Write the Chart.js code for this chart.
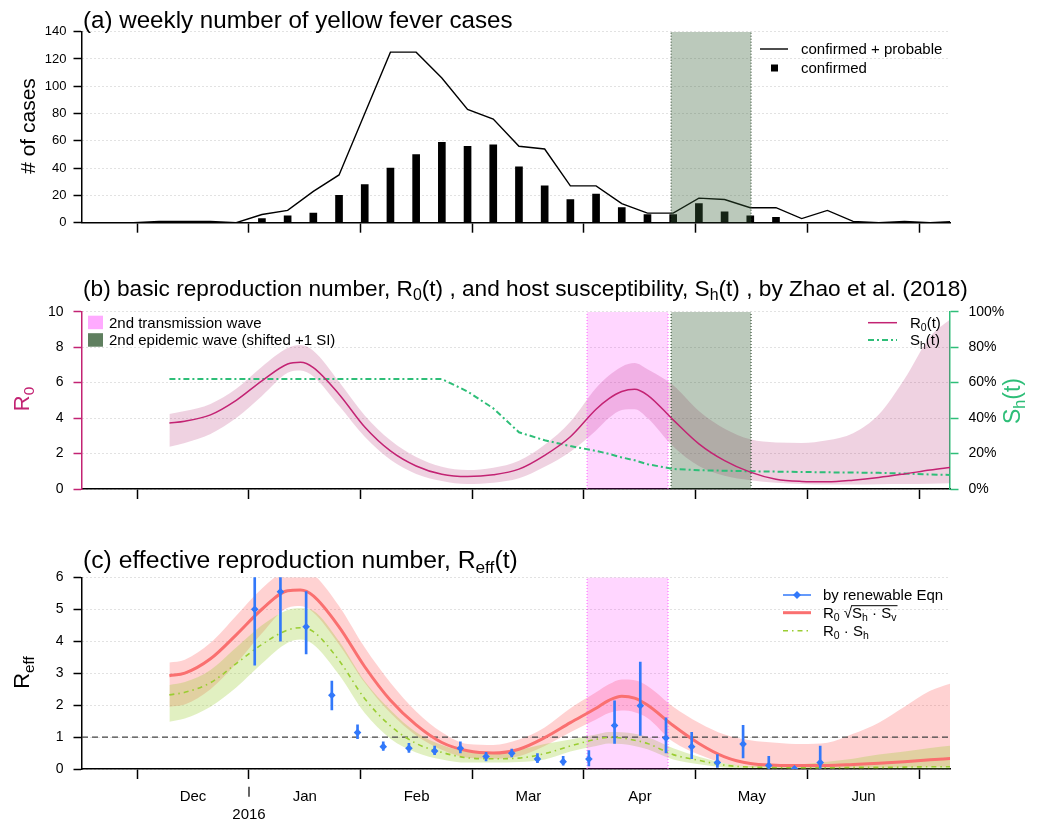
<!DOCTYPE html>
<html>
<head>
<meta charset="utf-8">
<title>Yellow fever cases and reproduction numbers</title>
<script src="https://cdn.jsdelivr.net/npm/chart.js@4.4.1/dist/chart.umd.min.js"></script>
<style>
  html, body { margin: 0; padding: 0; background: #fff; }
  #wrap { position: relative; width: 1047px; height: 822px; }
  .panel { position: absolute; left: 0; width: 1047px; }
</style>
</head>
<body>
<div id="wrap">
  <div class="panel" style="top:0;height:260px"><canvas id="chartA"></canvas></div>
  <div class="panel" style="top:260px;height:270px"><canvas id="chartB"></canvas></div>
  <div class="panel" style="top:530px;height:292px"><canvas id="chartC"></canvas></div>
</div>
<script>
// x axis is in weeks, week 0 = left edge of the plots
const monthTicks = [2.14, 6.49, 10.84, 15.19, 19.53, 23.88, 28.23, 32.58];
const monthLabels = ['Dec', 'Jan', 'Feb', 'Mar', 'Apr', 'May', 'Jun', ''];
const X_MAX = 33.77;

// (a) weekly cases
const caseWeeks = [0, 1, 2, 3, 4, 5, 6, 7, 8, 9, 10, 11, 12, 13, 14, 15, 16, 17, 18, 19, 20, 21, 22, 23, 24, 25, 26, 27, 28, 29, 30, 31, 32, 33, 34];
const casesTotal = [0, 0, 0, 1, 1, 1, 0, 6, 9, 23, 35, 80, 125, 125, 106, 83, 76, 56, 54, 27, 27, 14, 7, 7, 18, 17, 11, 11, 3, 9, 1, 0, 1, 0, 1];
const confirmedWeeks = [7, 8, 9, 10, 11, 12, 13, 14, 15, 16, 17, 18, 19, 20, 21, 22, 23, 24, 25, 26, 27];
const casesConfirmed = [3, 5, 7, 20, 28, 40, 50, 59, 56, 57, 41, 27, 17, 21, 11, 6, 6, 14, 8, 5, 4];

// shaded periods (weeks)
const transWave = [19.65, 22.8];
const epiWave = [22.92, 26.03];

// (b) R0(t) with band, Sh(t) in %
const curveWeeks = [3.4, 4, 5, 6, 7, 8, 8.5, 9, 10, 11, 12, 13, 14, 15, 16, 17, 18, 19, 20, 20.5, 21, 21.5, 22, 23, 24, 25, 26, 27, 28, 29, 30, 31, 32, 33, 33.8];
const r0Mid = [3.72, 3.82, 4.18, 5.0, 6.1, 7.05, 7.15, 6.85, 5.35, 3.5, 2.15, 1.3, 0.83, 0.7, 0.8, 1.12, 1.9, 2.95, 4.5, 5.1, 5.5, 5.63, 5.3, 3.9, 2.55, 1.6, 0.95, 0.55, 0.43, 0.41, 0.5, 0.65, 0.85, 1.07, 1.22];
const r0Hi = [4.23, 4.4, 4.8, 5.65, 6.9, 7.95, 8.12, 7.8, 6.05, 4.15, 2.75, 1.8, 1.25, 1.07, 1.2, 1.6, 2.5, 3.8, 5.7, 6.4, 6.9, 7.1, 6.75, 5.85, 4.4, 3.4, 2.8, 2.62, 2.6, 2.75, 3.15, 4.2, 6.2, 8.6, 9.6];
const r0Lo = [2.39, 2.6, 3.1, 4.0, 5.25, 6.55, 6.68, 6.35, 4.7, 2.95, 1.65, 0.85, 0.45, 0.28, 0.35, 0.6, 1.25, 2.1, 3.3, 4.0, 4.45, 4.5, 4.0, 2.4, 1.3, 0.75, 0.5, 0.35, 0.28, 0.25, 0.25, 0.27, 0.28, 0.3, 0.32];
const shPct = [62, 62, 62, 62, 62, 62, 62, 62, 62, 62, 62, 62, 62, 55, 45.5, 32, 27.5, 24.2, 21.5, 19.8, 17.8, 16.2, 14, 11.3, 10.6, 10.3, 10, 9.8, 9.6, 9.4, 9.3, 9.1, 8.7, 8.2, 7.9];

// (c) Reff estimates
const reffSqMid = [2.92, 3.0, 3.45, 4.2, 5.0, 5.58, 5.6, 5.42, 4.45, 3.2, 2.15, 1.38, 0.83, 0.57, 0.5, 0.62, 0.98, 1.45, 1.9, 2.15, 2.28, 2.22, 2.0, 1.36, 0.8, 0.38, 0.17, 0.12, 0.11, 0.11, 0.14, 0.18, 0.23, 0.29, 0.33];
const reffSqHi = [3.33, 3.42, 3.95, 4.8, 5.65, 6.25, 6.3, 6.1, 5.1, 3.8, 2.7, 1.8, 1.15, 0.78, 0.75, 0.92, 1.3, 1.9, 2.4, 2.65, 2.8, 2.78, 2.6, 1.95, 1.45, 1.08, 0.9, 0.82, 0.78, 0.82, 1.1, 1.45, 1.95, 2.45, 2.68];
const reffSqLo = [1.95, 2.02, 2.5, 3.3, 4.25, 5.05, 5.1, 4.9, 3.9, 2.7, 1.75, 1.05, 0.6, 0.35, 0.32, 0.4, 0.72, 1.15, 1.55, 1.75, 1.83, 1.78, 1.6, 0.85, 0.45, 0.18, 0.07, 0.05, 0.04, 0.04, 0.05, 0.05, 0.06, 0.07, 0.07];
const reffShMid = [2.32, 2.4, 2.7, 3.3, 3.9, 4.35, 4.42, 4.3, 3.4, 2.2, 1.35, 0.8, 0.52, 0.35, 0.32, 0.34, 0.48, 0.72, 0.93, 0.99, 0.97, 0.9, 0.8, 0.45, 0.27, 0.12, 0.06, 0.05, 0.04, 0.04, 0.05, 0.05, 0.06, 0.07, 0.07];
const reffShHi = [2.63, 2.72, 3.1, 3.8, 4.5, 4.98, 5.03, 4.95, 4.0, 2.75, 1.85, 1.15, 0.75, 0.55, 0.52, 0.6, 0.78, 0.92, 1.08, 1.16, 1.15, 1.1, 1.0, 0.65, 0.38, 0.18, 0.09, 0.1, 0.15, 0.23, 0.32, 0.45, 0.55, 0.66, 0.73];
const reffShLo = [1.48, 1.58, 1.95, 2.55, 3.3, 3.95, 4.05, 3.9, 2.95, 1.75, 0.95, 0.52, 0.3, 0.2, 0.2, 0.22, 0.3, 0.55, 0.72, 0.8, 0.78, 0.72, 0.62, 0.3, 0.15, 0.05, 0.02, 0.01, 0.01, 0.01, 0.01, 0.01, 0.01, 0.01, 0.01];

// renewable equation estimates with error bars
const renewWeeks = [6.72, 7.72, 8.72, 9.72, 10.72, 11.72, 12.72, 13.72, 14.72, 15.72, 16.72, 17.72, 18.72, 19.72, 20.72, 21.72, 22.72, 23.72, 24.72, 25.72, 26.72, 27.72, 28.72];
const renewR = [5.0, 5.55, 4.45, 2.31, 1.14, 0.7, 0.65, 0.56, 0.65, 0.39, 0.49, 0.31, 0.23, 0.31, 1.36, 1.98, 0.97, 0.7, 0.2, 0.78, 0.11, 0.01, 0.2];
const renewLo = [3.25, 4.0, 3.6, 1.85, 0.95, 0.58, 0.52, 0.45, 0.5, 0.25, 0.38, 0.2, 0.12, 0.1, 0.8, 1.05, 0.5, 0.32, 0.05, 0.35, 0, 0, 0];
const renewHi = [6.8, 7.2, 5.55, 2.75, 1.38, 0.85, 0.8, 0.72, 0.85, 0.52, 0.62, 0.48, 0.4, 0.58, 2.13, 3.35, 1.6, 1.15, 0.45, 1.37, 0.4, 0.05, 0.72];

// colours
const C_R0 = 'rgb(195,35,115)';
const C_R0_BAND = 'rgba(180,50,120,0.22)';
const C_SH = 'rgb(46,190,120)';
const C_PINK = 'rgba(255,0,255,0.16)';
const C_PINK_EDGE = 'rgba(255,80,255,0.9)';
const C_EPI = 'rgba(60,100,60,0.35)';
const C_EPI_EDGE = '#1c381c';
const C_RED = 'rgb(250,112,112)';
const C_RED_BAND = 'rgba(255,60,60,0.23)';
const C_YG = 'rgb(154,205,50)';
const C_YG_BAND = 'rgba(154,205,50,0.3)';
const C_BLUE = 'rgb(50,120,250)';
const C_GRID = '#c4c4c4';

const FONT = "'Liberation Sans', Arial, Helvetica, sans-serif";
Chart.defaults.font.family = FONT;
Chart.defaults.animation = false;

const pts = (xs, ys) => xs.map((x, i) => ({ x, y: ys[i] }));
const fontPx = size => size + 'px ' + FONT;

// text with subscripts: parts = [[text, isSub], ...]
function richWidth(ctx, parts, size) {
    let w = 0;
    parts.forEach(([t, sub]) => {
        ctx.font = fontPx(sub ? size * 0.7 : size);
        w += ctx.measureText(t).width;
    });
    return w;
}

function drawRich(ctx, parts, x, baseY, size, color) {
    ctx.save();
    ctx.fillStyle = color;
    ctx.textAlign = 'left';
    ctx.textBaseline = 'alphabetic';
    parts.forEach(([t, sub]) => {
        ctx.font = fontPx(sub ? size * 0.7 : size);
        ctx.fillText(t, x, sub ? baseY + size * 0.22 : baseY);
        x += ctx.measureText(t).width;
    });
    ctx.restore();
    return x;
}

function drawRotated(ctx, parts, cx, cy, size, color) {
    ctx.save();
    ctx.translate(cx, cy);
    ctx.rotate(-Math.PI / 2);
    const w = richWidth(ctx, parts, size);
    drawRich(ctx, parts, -w / 2, size * 0.36, size, color);
    ctx.restore();
}

// scale the title font so the text spans the same width as in the figure
function drawTitle(ctx, parts, x, baseY, targetWidth) {
    const size = 20 * targetWidth / richWidth(ctx, parts, 20);
    drawRich(ctx, parts, x, baseY, size, '#000');
}

function legendLine(ctx, x0, x1, y, color, width, dash) {
    ctx.save();
    ctx.strokeStyle = color;
    ctx.lineWidth = width;
    ctx.setLineDash(dash || []);
    ctx.beginPath();
    ctx.moveTo(x0, y);
    ctx.lineTo(x1, y);
    ctx.stroke();
    ctx.restore();
}

function legendText(ctx, parts, x, cy, size) {
    drawRich(ctx, parts, x, cy + size * 0.36, size, '#000');
}

// shaded period as a filled line dataset, plus dotted edges
function periodDatasets(range, top, fillColor, edgeColor) {
    const common = { type: 'line', pointRadius: 0, tension: 0 };
    return [
        { ...common, data: [{ x: range[0], y: top }, { x: range[1], y: top }], fill: 'origin', backgroundColor: fillColor, borderColor: 'rgba(0,0,0,0)', borderWidth: 0, order: 4 },
        { ...common, data: [{ x: range[0], y: 0 }, { x: range[0], y: top }], fill: false, borderColor: edgeColor, borderWidth: 1, borderDash: [1, 2], order: 3 },
        { ...common, data: [{ x: range[1], y: 0 }, { x: range[1], y: top }], fill: false, borderColor: edgeColor, borderWidth: 1, borderDash: [1, 2], order: 3 }
    ];
}

function bandDatasets(hi, lo, color, order) {
    const common = { type: 'line', pointRadius: 0, borderWidth: 0, borderColor: 'rgba(0,0,0,0)', cubicInterpolationMode: 'monotone', order };
    return [
        { ...common, data: pts(curveWeeks, hi), fill: '+1', backgroundColor: color },
        { ...common, data: pts(curveWeeks, lo), fill: false }
    ];
}

function xAxis(height, withLabels) {
    return {
        type: 'linear', min: 0, max: X_MAX, offset: false,
        afterBuildTicks: s => { s.ticks = monthTicks.map(v => ({ value: v })); },
        afterFit: s => { s.height = height; },
        grid: { offset: false, drawOnChartArea: false, drawTicks: true, tickLength: 10, tickColor: '#000', tickWidth: 1.5 },
        border: { color: '#000', width: 1.5 },
        ticks: {
            display: withLabels, autoSkip: false, maxRotation: 0, minRotation: 0,
            labelOffset: 56, padding: 9, color: '#000', font: { size: 15 },
            callback: (v, i) => monthLabels[i]
        }
    };
}

function yAxis(min, max, step, width, opts) {
    return {
        type: 'linear', position: opts.position || 'left', min, max,
        afterFit: s => { s.width = width; },
        grid: {
            drawOnChartArea: opts.gridOn !== false, color: C_GRID, lineWidth: 1,
            drawTicks: true, tickLength: 8.5, tickColor: opts.axisColor || '#000', tickWidth: 1.5
        },
        border: { color: opts.axisColor || '#000', width: 1.5, dash: [1, 3] },
        ticks: {
            stepSize: step, padding: opts.padding || 10, color: '#000', font: { size: opts.fontSize || 14 },
            callback: opts.callback || (v => v)
        }
    };
}

const baseOptions = {
    responsive: true,
    maintainAspectRatio: false,
    events: [],
    plugins: { legend: { display: false }, tooltip: { enabled: false } }
};

// ---------- (a) weekly cases ----------
new Chart(document.getElementById('chartA'), {
    type: 'line',
    data: {
        datasets: [
            ...periodDatasets(epiWave, 140, C_EPI, C_EPI_EDGE).map(d => ({ ...d, order: d.order - 3 })),
            { type: 'line', data: pts(caseWeeks, casesTotal), borderColor: '#000', borderWidth: 1.4, pointRadius: 0, tension: 0, fill: false, order: 2 },
            { type: 'bar', data: pts(confirmedWeeks, casesConfirmed), backgroundColor: '#000', barThickness: 7, grouped: false, order: 3 }
        ]
    },
    options: {
        ...baseOptions,
        layout: { padding: { top: 31.7, right: 97, bottom: 0, left: 0 } },
        scales: {
            x: xAxis(37.3, false),
            y: yAxis(0, 140, 20, 82, { fontSize: 13, padding: 7 })
        }
    },
    plugins: [{
        id: 'decorA',
        afterDraw(chart) {
            const ctx = chart.ctx;
            drawTitle(ctx, [['(a) weekly number of yellow fever cases']], 83, 27.5, 430);
            drawRotated(ctx, [['# of cases']], 27, 126, 21, '#000');
            legendLine(ctx, 760, 788, 49, '#000', 1.4);
            legendText(ctx, [['confirmed + probable']], 801, 49, 15);
            ctx.fillStyle = '#000';
            ctx.fillRect(771, 64.5, 7, 7);
            legendText(ctx, [['confirmed']], 801, 68, 15);
        }
    }]
});

// ---------- (b) R0(t) and Sh(t) ----------
new Chart(document.getElementById('chartB'), {
    type: 'line',
    data: {
        datasets: [
            ...bandDatasets(r0Hi, r0Lo, C_R0_BAND, 6),
            ...periodDatasets(transWave, 10, C_PINK, C_PINK_EDGE),
            ...periodDatasets(epiWave, 10, C_EPI, C_EPI_EDGE),
            { type: 'line', yAxisID: 'y2', data: pts(curveWeeks, shPct), borderColor: C_SH, borderWidth: 2, borderDash: [6, 3, 2, 3], pointRadius: 0, tension: 0, fill: false, order: 2 },
            { type: 'line', data: pts(curveWeeks, r0Mid), borderColor: C_R0, borderWidth: 1.5, pointRadius: 0, cubicInterpolationMode: 'monotone', fill: false, order: 1 }
        ]
    },
    options: {
        ...baseOptions,
        layout: { padding: { top: 51.7, right: 0, bottom: 0, left: 0 } },
        scales: {
            x: xAxis(41, false),
            y: yAxis(0, 10, 2, 82, { axisColor: C_R0, fontSize: 14 }),
            y2: yAxis(0, 100, 20, 97, { position: 'right', gridOn: false, axisColor: C_SH, fontSize: 14, callback: v => v + '%' })
        }
    },
    plugins: [{
        id: 'decorB',
        afterDraw(chart) {
            const ctx = chart.ctx;
            drawTitle(ctx, [['(b) basic reproduction number, R'], ['0', 1], ['(t) , and host susceptibility, S'], ['h', 1], ['(t) , by Zhao et al. (2018)']], 83, 35.5, 885);
            drawRotated(ctx, [['R'], ['0', 1]], 21, 139, 22, C_R0);
            drawRotated(ctx, [['S'], ['h', 1], ['(t)']], 1012, 141, 23, C_SH);
            // left legend
            ctx.fillStyle = '#ffaaff';
            ctx.fillRect(88, 55.7, 15, 13.5);
            ctx.fillStyle = '#5f7f5f';
            ctx.fillRect(88, 73.2, 15, 13.5);
            legendText(ctx, [['2nd transmission wave']], 109, 62.3, 15);
            legendText(ctx, [['2nd epidemic wave (shifted +1 SI)']], 109, 80, 15);
            // right legend
            legendLine(ctx, 868, 897, 62.7, C_R0, 1.5);
            legendText(ctx, [['R'], ['0', 1], ['(t)']], 910, 62.3, 15);
            legendLine(ctx, 868, 897, 80, C_SH, 2, [6, 3, 2, 3]);
            legendText(ctx, [['S'], ['h', 1], ['(t)']], 910, 80, 15);
        }
    }]
});

// ---------- (c) Reff(t) ----------
new Chart(document.getElementById('chartC'), {
    type: 'line',
    data: {
        datasets: [
            ...bandDatasets(reffSqHi, reffSqLo, C_RED_BAND, 8),
            ...bandDatasets(reffShHi, reffShLo, C_YG_BAND, 7),
            ...periodDatasets(transWave, 6, C_PINK, C_PINK_EDGE).map(d => ({ ...d, order: d.order + 2 })),
            { type: 'line', data: [{ x: 0, y: 1 }, { x: X_MAX, y: 1 }], borderColor: '#444', borderWidth: 1.2, borderDash: [6, 4], pointRadius: 0, fill: false, order: 4 },
            { type: 'line', data: pts(curveWeeks, reffShMid), borderColor: C_YG, borderWidth: 1.6, borderDash: [5, 4, 1.5, 4], pointRadius: 0, cubicInterpolationMode: 'monotone', fill: false, order: 3 },
            { type: 'line', data: pts(curveWeeks, reffSqMid), borderColor: C_RED, borderWidth: 3, pointRadius: 0, cubicInterpolationMode: 'monotone', fill: false, order: 2 },
            { type: 'bar', data: renewWeeks.map((x, i) => ({ x, y: [renewLo[i], renewHi[i]] })), backgroundColor: C_BLUE, barThickness: 2, grouped: false, order: 1 },
            { type: 'line', data: pts(renewWeeks, renewR), showLine: false, pointStyle: 'rectRot', pointRadius: 3.8, pointBackgroundColor: C_BLUE, pointBorderWidth: 0, order: 0 }
        ]
    },
    options: {
        ...baseOptions,
        layout: { padding: { top: 47.3, right: 97, bottom: 0, left: 0 } },
        scales: {
            x: xAxis(53, true),
            y: yAxis(0, 6, 1, 82, { fontSize: 14 })
        }
    },
    plugins: [{
        id: 'decorC',
        afterDraw(chart) {
            const ctx = chart.ctx;
            drawTitle(ctx, [['(c) effective reproduction number, R'], ['eff', 1], ['(t)']], 83, 38, 435);
            drawRotated(ctx, [['R'], ['eff', 1]], 21, 142.5, 22, '#000');

            // year marker under the January tick
            ctx.save();
            ctx.strokeStyle = '#000';
            ctx.lineWidth = 1.2;
            ctx.beginPath();
            ctx.moveTo(249, 256.7);
            ctx.lineTo(249, 266.7);
            ctx.stroke();
            ctx.fillStyle = '#000';
            ctx.font = fontPx(15);
            ctx.textAlign = 'center';
            ctx.textBaseline = 'middle';
            ctx.fillText('2016', 249, 285);
            ctx.restore();

            // legend
            legendLine(ctx, 783, 811, 65, C_BLUE, 1.5);
            ctx.save();
            ctx.fillStyle = C_BLUE;
            ctx.beginPath();
            ctx.moveTo(797, 61); ctx.lineTo(801, 65); ctx.lineTo(797, 69); ctx.lineTo(793, 65);
            ctx.closePath();
            ctx.fill();
            ctx.restore();
            legendText(ctx, [['by renewable Eqn']], 823, 65, 15);

            legendLine(ctx, 783, 811, 82.7, C_RED, 3);
            const base = 82.7 + 15 * 0.36;
            let x = drawRich(ctx, [['R'], ['0', 1], [' ']], 823, base, 15, '#000');
            ctx.font = fontPx(15);
            const rad = ctx.measureText('\u221A');
            ctx.fillStyle = '#000';
            ctx.fillText('\u221A', x, base);
            const radTop = base - rad.actualBoundingBoxAscent;
            x += rad.width;
            const x0 = x;
            x = drawRich(ctx, [['S'], ['h', 1], [' \u00B7 S'], ['v', 1]], x, base, 15, '#000');
            legendLine(ctx, x0 - 1, x + 1, radTop + 0.6, '#000', 1);

            legendLine(ctx, 783, 811, 100.7, C_YG, 1.6, [5, 4, 1.5, 4]);
            legendText(ctx, [['R'], ['0', 1], [' \u00B7 S'], ['h', 1]], 823, 100.7, 15);
        }
    }]
});
</script>
</body>
</html>
